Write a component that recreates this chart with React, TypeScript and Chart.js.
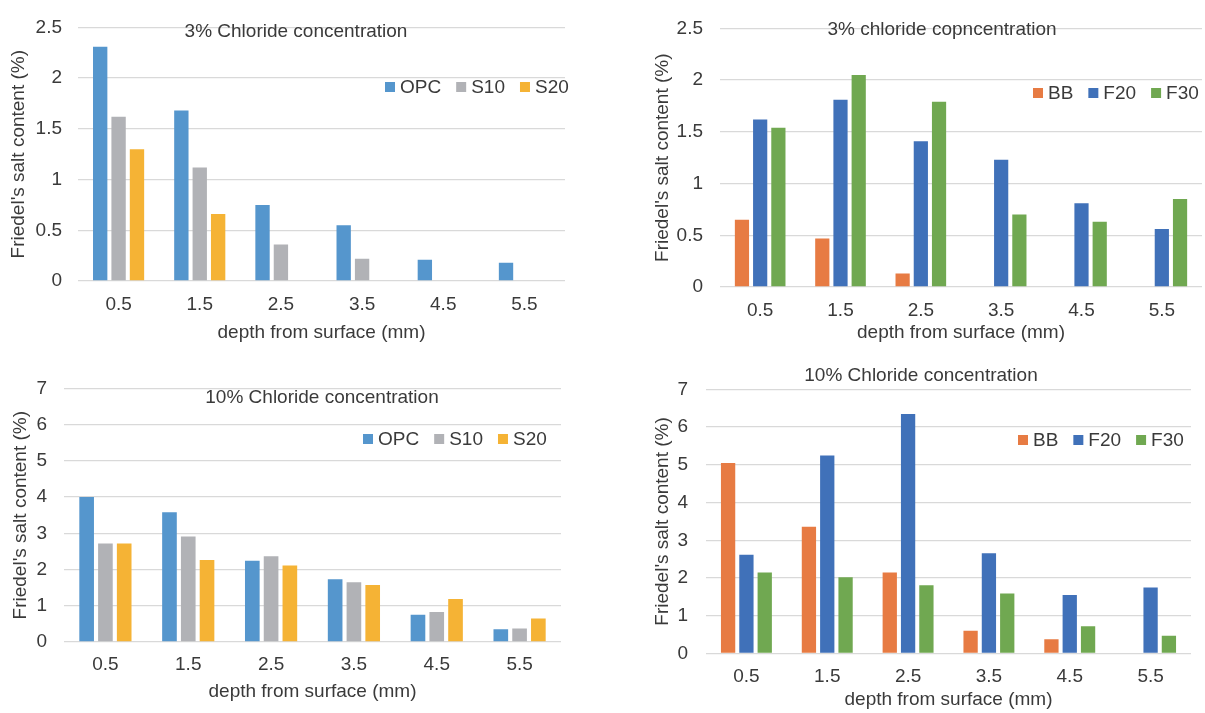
import React, { useEffect, useRef } from "react";
import { Chart, registerables } from "chart.js";

Chart.register(...registerables);

// ---------- data ----------
const depthLabels = ["0.5", "1.5", "2.5", "3.5", "4.5", "5.5"];

// 3% chloride, slag mixes
const opc3 = [2.31, 1.68, 0.75, 0.55, 0.21, 0.18];
const s10_3 = [1.62, 1.12, 0.36, 0.22, null, null];
const s20_3 = [1.3, 0.66, null, null, null, null];

// 3% chloride, fly ash mixes
const bb3 = [0.65, 0.47, 0.13, null, null, null];
const f20_3 = [1.62, 1.81, 1.41, 1.23, 0.81, 0.56];
const f30_3 = [1.54, 2.05, 1.79, 0.7, 0.63, 0.85];

// 10% chloride, slag mixes
const opc10 = [4.0, 3.58, 2.24, 1.73, 0.75, 0.35];
const s10_10 = [2.72, 2.91, 2.37, 1.65, 0.83, 0.37];
const s20_10 = [2.72, 2.26, 2.11, 1.57, 1.19, 0.65];

// 10% chloride, fly ash mixes
const bb10 = [5.05, 3.36, 2.15, 0.6, 0.38, null];
const f20_10 = [2.62, 5.25, 6.35, 2.66, 1.55, 1.75];
const f30_10 = [2.15, 2.02, 1.81, 1.59, 0.72, 0.47];

const titleTL = "3% Chloride concentration";
const titleTR = "3% chloride copncentration";
const titleBL = "10% Chloride concentration";
const titleBR = "10% Chloride concentration";
const xTitle = "depth from surface (mm)";
const yTitle = "Friedel's salt content (%)";

// ---------- styles ----------
const FONT = "'Liberation Sans', Arial, sans-serif";
const TEXT = "#3a3a3a";
const C_OPC = "#5596cd";
const C_S10 = "#b1b2b6";
const C_S20 = "#f5b335";
const C_BB = "#e77b43";
const C_F20 = "#4071b9";
const C_F30 = "#70a851";

type Series = { label: string; data: (number | null)[]; color: string };

type PanelCfg = {
  left: number;
  top: number;
  w: number;
  h: number;
  title: string;
  tx: number;
  ty: number;
  lx: number;
  ly: number;
  yMax: number;
  step: number;
  padTop: number;
  padRight: number;
  yWidth: number;
  xHeight: number;
  xTickPad: number;
  xTitlePad: number;
  yTickPad: number;
  yTitlePad: number;
  series: Series[];
};

const panels: PanelCfg[] = [
  {
    left: 0, top: 0, w: 600, h: 355,
    title: titleTL, tx: 296, ty: 32, lx: 385, ly: 87,
    yMax: 2.5, step: 0.5,
    padTop: 15, padRight: 35, yWidth: 78, xHeight: 74,
    xTickPad: 12.6, xTitlePad: 10.6, yTickPad: 16, yTitlePad: 7,
    series: [
      { label: "OPC", data: opc3, color: C_OPC },
      { label: "S10", data: s10_3, color: C_S10 },
      { label: "S20", data: s20_3, color: C_S20 },
    ],
  },
  {
    left: 600, top: 0, w: 605, h: 355,
    title: titleTR, tx: 342, ty: 30, lx: 433, ly: 93,
    yMax: 2.5, step: 0.5,
    padTop: 14, padRight: 3, yWidth: 120, xHeight: 68,
    xTickPad: 12.1, xTitlePad: 10.6, yTickPad: 17, yTitlePad: 51,
    series: [
      { label: "BB", data: bb3, color: C_BB },
      { label: "F20", data: f20_3, color: C_F20 },
      { label: "F30", data: f30_3, color: C_F30 },
    ],
  },
  {
    left: 0, top: 360, w: 600, h: 353,
    title: titleBL, tx: 322, ty: 38, lx: 363, ly: 79,
    yMax: 7, step: 1,
    padTop: 20, padRight: 39, yWidth: 64, xHeight: 71,
    xTickPad: 11.6, xTitlePad: 9.6, yTickPad: 17, yTitlePad: 9,
    series: [
      { label: "OPC", data: opc10, color: C_OPC },
      { label: "S10", data: s10_10, color: C_S10 },
      { label: "S20", data: s20_10, color: C_S20 },
    ],
  },
  {
    left: 600, top: 360, w: 605, h: 353,
    title: titleBR, tx: 321, ty: 16, lx: 418, ly: 80,
    yMax: 7, step: 1,
    padTop: 14.5, padRight: 14, yWidth: 106, xHeight: 59.5,
    xTickPad: 12.1, xTitlePad: 1.6, yTickPad: 18, yTitlePad: 51.5,
    series: [
      { label: "BB", data: bb10, color: C_BB },
      { label: "F20", data: f20_10, color: C_F20 },
      { label: "F30", data: f30_10, color: C_F30 },
    ],
  },
];

function overlayPlugin(p: PanelCfg) {
  return {
    id: "overlay",
    afterDraw(chart: any) {
      const ctx = chart.ctx as CanvasRenderingContext2D;
      ctx.save();
      ctx.font = `19px ${FONT}`;
      ctx.fillStyle = TEXT;
      ctx.textAlign = "center";
      ctx.textBaseline = "middle";
      ctx.fillText(p.title, p.tx, p.ty);
      ctx.textAlign = "left";
      let x = p.lx;
      chart.data.datasets.forEach((ds: any) => {
        ctx.fillStyle = ds.backgroundColor;
        ctx.fillRect(x, p.ly - 5, 10, 10);
        x += 15;
        ctx.fillStyle = TEXT;
        ctx.fillText(ds.label, x, p.ly + 1);
        x += ctx.measureText(ds.label).width + 15;
      });
      ctx.restore();
    },
  };
}

function Panel({ p }: { p: PanelCfg }) {
  const ref = useRef<HTMLCanvasElement | null>(null);
  useEffect(() => {
    if (!ref.current) return;
    const font = { family: FONT, size: 19 };
    const chart = new Chart(ref.current, {
      type: "bar",
      data: {
        labels: depthLabels,
        datasets: p.series.map((s) => ({
          label: s.label,
          data: s.data as any,
          backgroundColor: s.color,
          borderWidth: 0,
          categoryPercentage: 0.68,
          barPercentage: 0.78,
        })),
      },
      options: {
        responsive: false,
        animation: false,
        events: [],
        layout: { padding: { left: 0, right: p.padRight, top: p.padTop, bottom: 0 } },
        plugins: {
          legend: { display: false },
          tooltip: { enabled: false },
          title: { display: false },
        },
        scales: {
          x: {
            grid: { display: false, drawTicks: false },
            border: { display: false },
            ticks: { color: TEXT, font, padding: p.xTickPad },
            title: {
              display: true,
              text: xTitle,
              color: TEXT,
              font,
              padding: { top: 0, bottom: p.xTitlePad },
            },
            afterFit: (s: any) => {
              s.height = p.xHeight;
            },
          },
          y: {
            min: 0,
            max: p.yMax,
            ticks: {
              stepSize: p.step,
              color: TEXT,
              font,
              padding: p.yTickPad,
              callback: (v: any) => String(Math.round(Number(v) * 100) / 100),
            },
            grid: { color: "#d9d9d9", lineWidth: 1.3, drawTicks: false },
            border: { display: false },
            title: {
              display: true,
              text: yTitle,
              color: TEXT,
              font,
              padding: { top: p.yTitlePad, bottom: 0 },
            },
            afterFit: (s: any) => {
              s.width = p.yWidth;
            },
          },
        },
      },
      plugins: [overlayPlugin(p)],
    });
    return () => chart.destroy();
  }, [p]);
  return (
    <canvas
      ref={ref}
      width={p.w}
      height={p.h}
      style={{ position: "absolute", left: p.left, top: p.top, width: p.w, height: p.h, display: "block" }}
    />
  );
}

export default function App() {
  return (
    <div style={{ position: "fixed", left: 0, top: 0, width: 1205, height: 713, background: "#fff" }}>
      {panels.map((p, i) => (
        <Panel key={i} p={p} />
      ))}
    </div>
  );
}
